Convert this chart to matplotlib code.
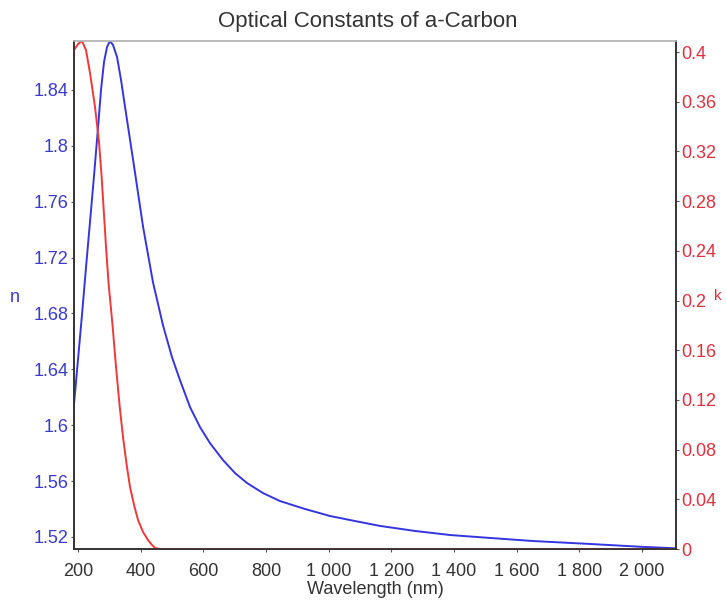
import matplotlib
matplotlib.use("Agg")
import matplotlib.pyplot as plt

plt.rcParams['font.family'] = ['Liberation Sans', 'DejaVu Sans']

# Refractive index n (blue, left axis)
wl_n = [187.2, 200, 212.8, 225.5, 238.3, 251.1, 263.8, 273.4, 283.0, 292.6, 302.1,
        311.7, 324.5, 337.3, 350.0, 366.0, 381.9, 407.5, 439.4, 471.3, 500.0,
        525.6, 557.5, 589.4, 621.3, 662.8, 701.1, 739.4, 790.5, 844.8, 924.6,
        1004.4, 1084.2, 1164.0, 1275.7, 1387.4, 1515.1, 1652.4, 1834.3, 2003.5, 2108]
n_vals = [1.6150, 1.6471, 1.6793, 1.7129, 1.7457, 1.7786, 1.8129, 1.8400, 1.8600,
          1.8707, 1.8750, 1.8721, 1.8636, 1.8471, 1.8279, 1.8043, 1.7807, 1.7421,
          1.7021, 1.6714, 1.6486, 1.6321, 1.6129, 1.5986, 1.5871, 1.5750, 1.5657,
          1.5586, 1.5514, 1.5457, 1.5400, 1.5350, 1.5314, 1.5279, 1.5243, 1.5214,
          1.5193, 1.5171, 1.5150, 1.5129, 1.5119]

# Extinction coefficient k (red, right axis)
wl_k = [187.2, 200, 212.8, 225.5, 238.3, 254.3, 267.0, 275.0, 282.0, 289.4, 297.4,
        310.1, 321.3, 332.5, 343.6, 354.8, 366.0, 378.8, 391.5, 407.5, 423.4,
        436.2, 445.8, 461.7, 2108]
k_vals = [0.4016, 0.4064, 0.4089, 0.4016, 0.3831, 0.3557, 0.3276, 0.3010, 0.2728,
          0.2431, 0.2141, 0.1803, 0.1465, 0.1159, 0.0901, 0.0684, 0.0499, 0.0354,
          0.0233, 0.0137, 0.0072, 0.0032, 0.0008, 0.0, 0.0]

x_ticks = [200, 400, 600, 800, 1000, 1200, 1400, 1600, 1800, 2000]
x_labels = ["200", "400", "600", "800", "1 000", "1 200", "1 400", "1 600", "1 800", "2 000"]
n_ticks = [1.52, 1.56, 1.60, 1.64, 1.68, 1.72, 1.76, 1.80, 1.84]
n_labels = ["1.52", "1.56", "1.6", "1.64", "1.68", "1.72", "1.76", "1.8", "1.84"]
k_ticks = [0, 0.04, 0.08, 0.12, 0.16, 0.20, 0.24, 0.28, 0.32, 0.36, 0.40]
k_labels = ["0", "0.04", "0.08", "0.12", "0.16", "0.2", "0.24", "0.28", "0.32", "0.36", "0.4"]

BLUE_LINE = "#3535e0"
BLUE_TXT = "#3a3acc"
RED_LINE = "#f03838"
RED_TXT = "#e0303e"
GRAY_TXT = "#333333"

fig = plt.figure(figsize=(7.26, 6.0), dpi=100)
ax = fig.add_axes([74/726, 1-549/600, (676-74)/726, (549-41)/600])
ax2 = ax.twinx()

ax.plot(wl_n, n_vals, color=BLUE_LINE, lw=1.4, zorder=3)
ax2.plot(wl_k, k_vals, color=RED_LINE, lw=1.4, zorder=2)

ax.set_xlim(187.2, 2108)
ax.set_ylim(1.5114, 1.8750)
ax2.set_ylim(0, 0.4089)

ax.set_xticks(x_ticks)
ax.set_xticklabels(x_labels, fontsize=13, color=GRAY_TXT)
ax.set_yticks(n_ticks)
ax.set_yticklabels(n_labels, fontsize=13, color=BLUE_TXT)
ax2.set_yticks(k_ticks)
ax2.set_yticklabels(k_labels, fontsize=13, color=RED_TXT)

ax.tick_params(axis='x', length=2, pad=8, color="#555555")
ax.tick_params(axis='y', length=2, pad=2, color="#555555")
ax2.tick_params(axis='y', length=2, pad=2, color="#555555")

for a in (ax, ax2):
    a.spines['top'].set_color("#bbbbbb")
    a.spines['left'].set_color("#333333")
    a.spines['bottom'].set_color("#333333")
    a.spines['right'].set_color("#333333")
    for s in a.spines.values():
        s.set_linewidth(1.2)

ax.set_xlabel("Wavelength (nm)", fontsize=13, color=GRAY_TXT, labelpad=1)
fig.text(15/726, 1-297/600, "n", fontsize=13, color=BLUE_TXT, ha='center', va='center')
fig.text(718/726, 1-296/600, "k", fontsize=11, color=RED_TXT, ha='center', va='center')
fig.text(368/726, 1-21/600, "Optical Constants of a-Carbon", fontsize=16,
         color=GRAY_TXT, ha='center', va='center')

fig.savefig("out.png", dpi=100)
